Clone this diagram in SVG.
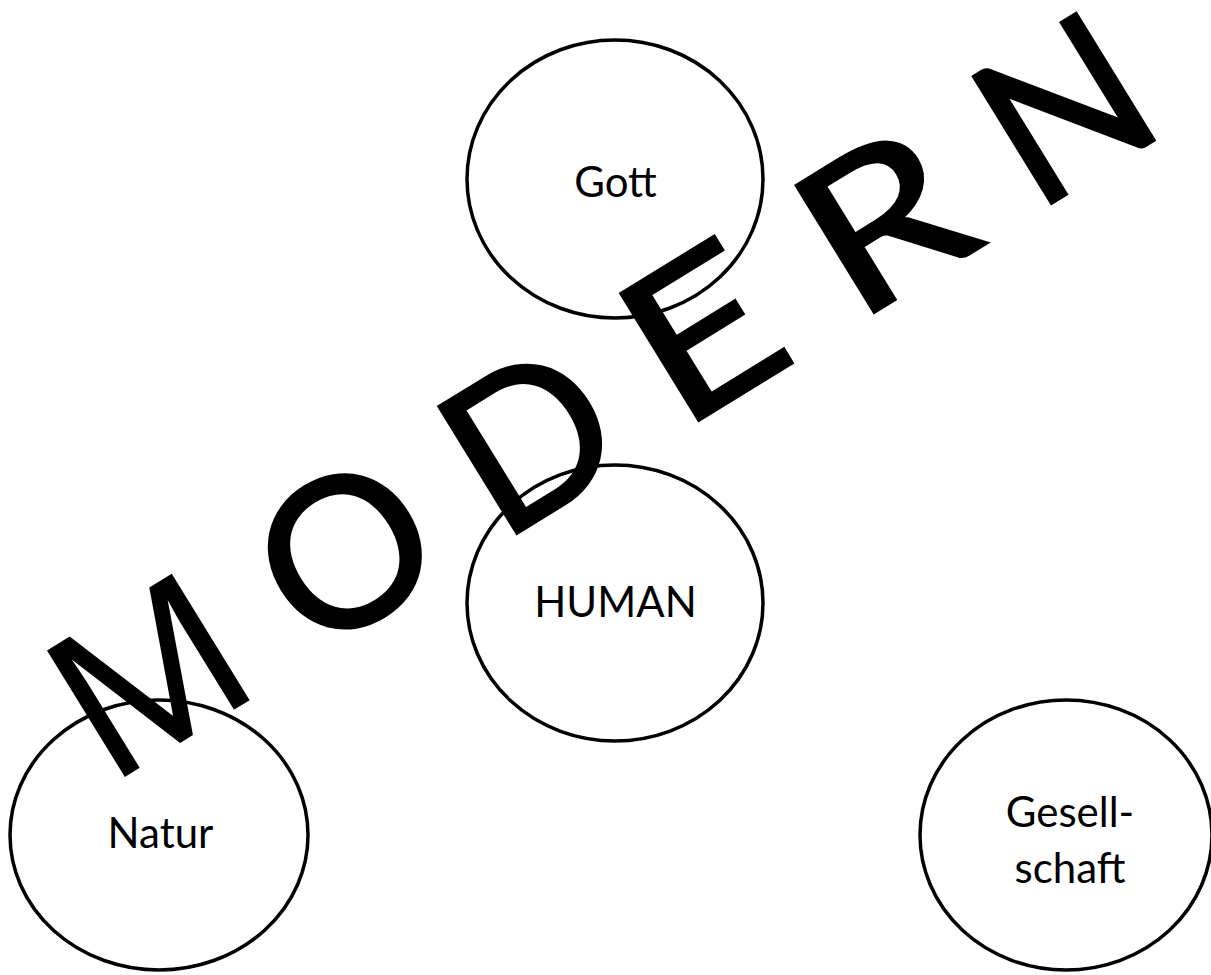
<svg xmlns="http://www.w3.org/2000/svg" width="1211" height="975" viewBox="0 0 1211 975">
<style>
.node ellipse{fill:#fff;stroke:#000;stroke-width:3.5}
.lbl{font-family:Lato,"Liberation Sans",sans-serif;font-size:42px;fill:#000;text-anchor:middle}
.big{font-family:Lato,"Liberation Sans",sans-serif;font-size:208px;fill:#000;stroke:#000;stroke-width:3;stroke-linejoin:miter;text-anchor:middle}
.bigm{font-family:"Open Sans",Lato,sans-serif;font-size:206px;stroke-width:1.5}
</style>
<rect width="1211" height="975" fill="#fff"/>
<g id="connectors"></g>
<g id="node-gott" class="node"><ellipse cx="615" cy="179" rx="148" ry="139"/><text class="lbl" x="615.5" y="197">Gott</text></g>
<g id="node-human" class="node"><ellipse cx="615" cy="603" rx="148" ry="138"/><text class="lbl" x="615.5" y="617">HUMAN</text></g>
<g id="node-natur" class="node"><ellipse cx="159" cy="835" rx="149" ry="135"/><text class="lbl" x="160.5" y="848">Natur</text></g>
<g id="node-gesellschaft" class="node"><ellipse cx="1066" cy="835" rx="146" ry="135"/><text class="lbl" x="1070" y="827">Gesell-</text><text class="lbl" x="1070" y="883">schaft</text></g>
<g id="modern">
<text class="big bigm" transform="translate(187,738) rotate(-31.6)">M</text>
<text class="big" transform="translate(384,615) rotate(-31.6)">O</text>
<text class="big" transform="translate(568,502) rotate(-31.6)">D</text>
<text class="big" transform="translate(740.7,394.9) rotate(-31.6) scale(1.19,1)">E</text>
<text class="big" transform="translate(921.5,283.2) rotate(-31.6) scale(1.2,1)">R</text>
<text class="big" transform="translate(1103,172) rotate(-31.6)">N</text>
</g>
</svg>
